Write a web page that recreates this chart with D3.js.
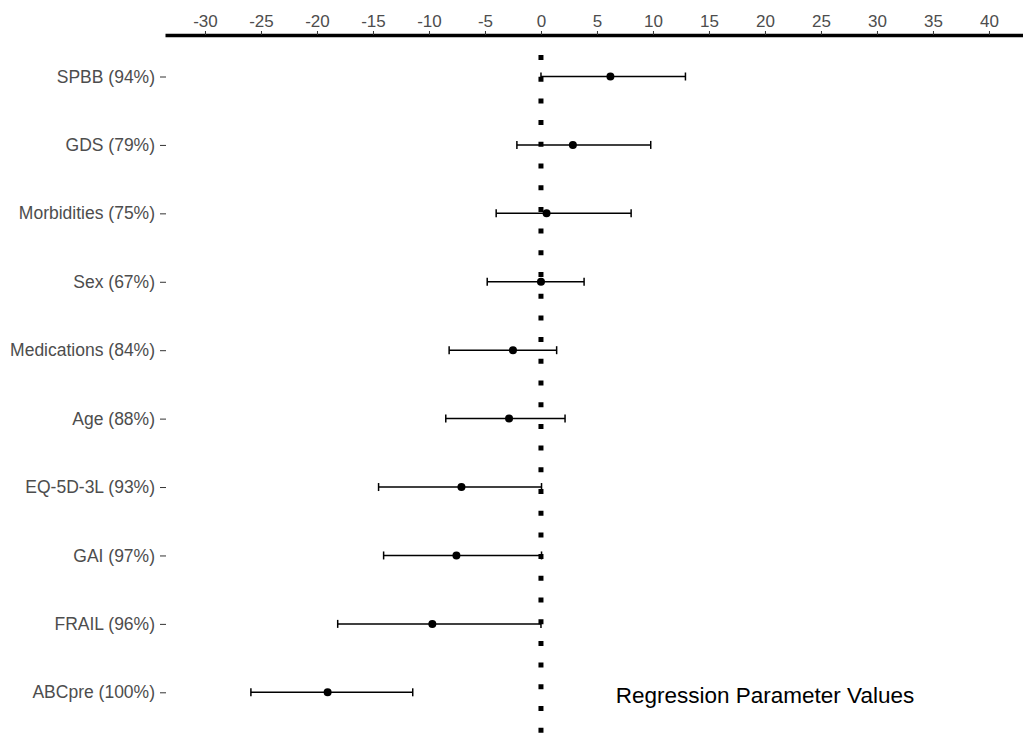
<!DOCTYPE html>
<html>
<head>
<meta charset="utf-8">
<script src="https://cdn.jsdelivr.net/npm/d3@7"></script>
<style>
  body { margin: 0; background: #fff; }
  svg { display: block; font-family: "Liberation Sans", Arial, sans-serif; }
</style>
</head>
<body>
<svg width="1023" height="734"></svg>
<script>
// variables, top to bottom
let labels = ['SPBB (94%)', 'GDS (79%)', 'Morbidities (75%)', 'Sex (67%)', 'Medications (84%)',
              'Age (88%)', 'EQ-5D-3L (93%)', 'GAI (97%)', 'FRAIL (96%)', 'ABCpre (100%)'];
let estimate = [6.2, 2.85, 0.5, 0.0, -2.5, -2.85, -7.1, -7.55, -9.7, -19.05];
let lower    = [0.0, -2.15, -4.0, -4.8, -8.2, -8.5, -14.5, -14.05, -18.15, -25.9];
let upper    = [12.9, 9.8, 8.05, 3.85, 1.4, 2.15, 0.05, 0.05, 0.0, -11.45];
let xTicks = d3.range(-30, 41, 5);
let title = 'Regression Parameter Values';

let rows = labels.map((l, i) => ({label: l, est: estimate[i], lo: lower[i], hi: upper[i]}));

let svg = d3.select('svg');
let width = +svg.attr('width'), height = +svg.attr('height');

let x = d3.scaleLinear().domain([-33.57, 43.04]).range([165, width]);
let y = d3.scalePoint().domain(labels).range([76.5, 692.3]);

// zero reference line
svg.append('line')
    .attr('x1', x(0)).attr('x2', x(0))
    .attr('y1', 55).attr('y2', height)
    .attr('stroke', '#000')
    .attr('stroke-width', 5)
    .attr('stroke-dasharray', '5,16.7');

// top axis
let xAxis = svg.append('g')
    .attr('transform', 'translate(0,35)')
    .call(d3.axisTop(x).tickValues(xTicks).tickFormat(d => String(d))
        .tickSize(4).tickSizeOuter(0).tickPadding(4));
xAxis.select('.domain').attr('stroke', '#000').attr('stroke-width', 3.5);
xAxis.selectAll('.tick line').attr('stroke', '#333').attr('stroke-width', 1);
xAxis.selectAll('.tick text').attr('fill', '#4d4d4d').style('font-size', '17px');

// left axis labels
let yAxis = svg.append('g')
    .attr('transform', 'translate(166,0)')
    .call(d3.axisLeft(y).tickSize(6).tickPadding(5));
yAxis.select('.domain').remove();
yAxis.selectAll('.tick line').attr('stroke', '#333').attr('stroke-width', 1);
yAxis.selectAll('.tick text').attr('fill', '#4d4d4d').style('font-size', '17.5px');

// error bars
let bars = svg.append('g').selectAll('g').data(rows).enter().append('g');
bars.append('line')
    .attr('x1', d => x(d.lo)).attr('x2', d => x(d.hi))
    .attr('y1', d => y(d.label)).attr('y2', d => y(d.label))
    .attr('stroke', '#000').attr('stroke-width', 1.5);
bars.append('line')
    .attr('x1', d => x(d.lo)).attr('x2', d => x(d.lo))
    .attr('y1', d => y(d.label) - 4).attr('y2', d => y(d.label) + 4)
    .attr('stroke', '#000').attr('stroke-width', 1.5);
bars.append('line')
    .attr('x1', d => x(d.hi)).attr('x2', d => x(d.hi))
    .attr('y1', d => y(d.label) - 4).attr('y2', d => y(d.label) + 4)
    .attr('stroke', '#000').attr('stroke-width', 1.5);
bars.append('circle')
    .attr('cx', d => x(d.est)).attr('cy', d => y(d.label))
    .attr('r', 4).attr('fill', '#000');

// title bottom right
svg.append('text')
    .attr('x', 765).attr('y', 703)
    .attr('text-anchor', 'middle')
    .style('font-size', '22.5px')
    .attr('fill', '#000')
    .text(title);
</script>
</body>
</html>
